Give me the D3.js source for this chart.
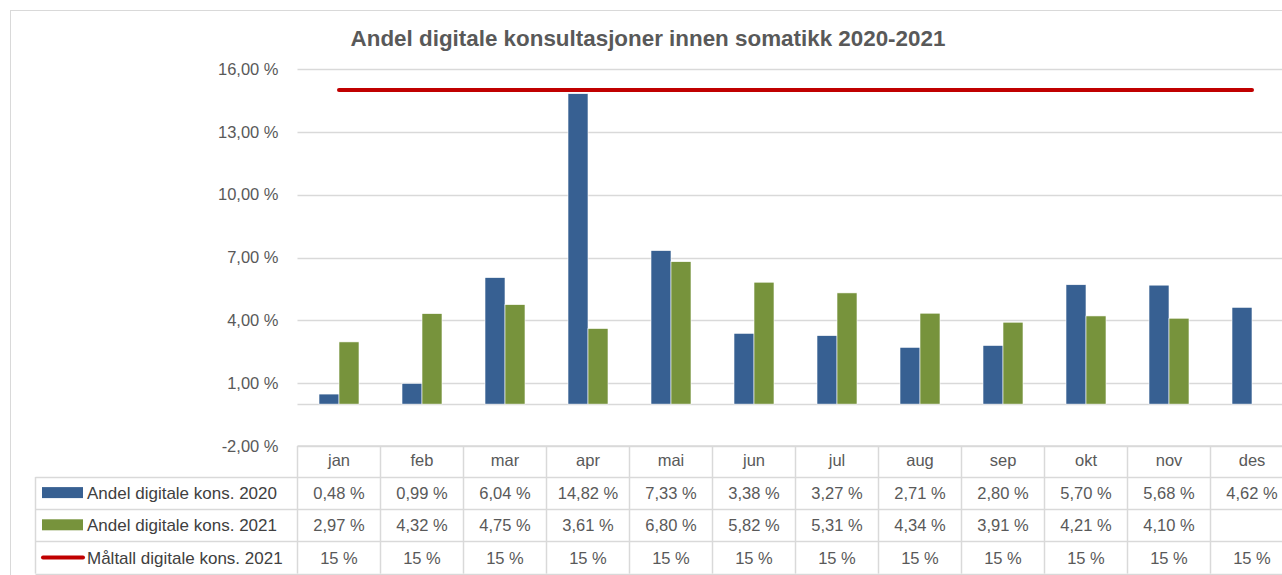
<!DOCTYPE html>
<html>
<head>
<meta charset="utf-8">
<script src="https://cdn.jsdelivr.net/npm/d3@7"></script>
<style>
  body { margin: 0; background: #fff; }
  svg { display: block; font-family: "Liberation Sans", Arial, sans-serif; }
</style>
</head>
<body>
<div id="chart"></div>
<script>
// data
const months = ["jan", "feb", "mar", "apr", "mai", "jun", "jul", "aug", "sep", "okt", "nov", "des"];
const kons2020 = [0.48, 0.99, 6.04, 14.82, 7.33, 3.38, 3.27, 2.71, 2.80, 5.70, 5.68, 4.62];
const kons2021 = [2.97, 4.32, 4.75, 3.61, 6.80, 5.82, 5.31, 4.34, 3.91, 4.21, 4.10, null];
const maltall = [15, 15, 15, 15, 15, 15, 15, 15, 15, 15, 15, 15];
const yTicks = [-2, 1, 4, 7, 10, 13, 16];
const seriesNames = ["Andel digitale kons. 2020", "Andel digitale kons. 2021", "Måltall digitale kons. 2021"];
const title = "Andel digitale konsultasjoner innen somatikk 2020-2021";

const colors = ["#376092", "#77933C", "#C00000"];
const grid = "#d9d9d9";
const textCol = "#595959";

const W = 1282, H = 575;
const plotLeft = 297.5, colW = 83;
const plotTop = 69, plotBottom = 446;

const svg = d3.select("#chart").append("svg")
  .attr("width", W)
  .attr("height", H);

// chart border
svg.append("rect")
  .attr("x", 10.5).attr("y", 10.5)
  .attr("width", 1400).attr("height", 700)
  .attr("fill", "none").attr("stroke", grid);

// scales
const x = d3.scaleBand().domain(months)
  .range([plotLeft, plotLeft + colW * months.length])
  .padding(0);
const xs = d3.scaleBand().domain(["2020", "2021"])
  .range([0, x.bandwidth()])
  .paddingInner(0).paddingOuter(1.075);
const y = d3.scaleLinear().domain([-2, 16]).range([plotBottom, plotTop]);

const fmt2 = v => d3.format(".2f")(v).replace(".", ",").replace("−", "-") + " %";

// gridlines
svg.append("g").selectAll("line")
  .data(yTicks.concat([0]))
  .join("line")
  .attr("x1", plotLeft).attr("x2", W + 20)
  .attr("y1", d => Math.round(y(d)) + 0.5)
  .attr("y2", d => Math.round(y(d)) + 0.5)
  .attr("stroke", grid).attr("stroke-width", 1.5);

// y axis
const yAxis = d3.axisLeft(y)
  .tickValues(yTicks)
  .tickSize(0)
  .tickPadding(19)
  .tickFormat(fmt2);
svg.append("g")
  .attr("transform", `translate(${plotLeft},0)`)
  .call(yAxis)
  .call(g => g.select(".domain").remove())
  .selectAll("text")
  .attr("fill", textCol)
  .style("font-size", "16.5px")
  .style("font-family", "Liberation Sans, Arial, sans-serif");

// bars
const bars = [
  { key: "2020", vals: kons2020, color: colors[0] },
  { key: "2021", vals: kons2021, color: colors[1] }
];
bars.forEach(s => {
  svg.append("g").selectAll("rect")
    .data(months.map((m, i) => ({ m: m, v: s.vals[i] })).filter(d => d.v != null))
    .join("rect")
    .attr("x", d => x(d.m) + xs(s.key))
    .attr("y", d => y(d.v))
    .attr("width", xs.bandwidth())
    .attr("height", d => y(0) - y(d.v))
    .attr("fill", s.color)
    .attr("stroke", "#ffffff")
    .attr("stroke-width", 0.6);
});

// target line
const line = d3.line()
  .x((d, i) => x(months[i]) + x.bandwidth() / 2)
  .y(d => y(d));
svg.append("path")
  .datum(maltall)
  .attr("d", line)
  .attr("fill", "none")
  .attr("stroke", colors[2])
  .attr("stroke-width", 4)
  .attr("stroke-linecap", "round");

// title
svg.append("text")
  .attr("x", 648).attr("y", 46)
  .attr("text-anchor", "middle")
  .attr("fill", textCol)
  .style("font-size", "22.4px")
  .style("font-weight", "bold")
  .text(title);

// data table
const tableTop = plotBottom;
const headH = 31, rowH = 32.2;
const tableLeft = 35.5;
const tableRight = plotLeft + colW * months.length;
const tbl = svg.append("g");

// horizontal lines
tbl.append("line")
  .attr("x1", plotLeft).attr("x2", tableRight)
  .attr("y1", tableTop).attr("y2", tableTop)
  .attr("stroke", grid).attr("stroke-width", 1.5);
[0, 1, 2, 3].forEach(r => {
  const yy = Math.round(tableTop + headH + r * rowH) + 0.5;
  tbl.append("line")
    .attr("x1", tableLeft).attr("x2", tableRight)
    .attr("y1", yy).attr("y2", yy)
    .attr("stroke", grid).attr("stroke-width", 1.5);
});
// vertical lines
d3.range(months.length + 1).forEach(i => {
  tbl.append("line")
    .attr("x1", plotLeft + i * colW).attr("x2", plotLeft + i * colW)
    .attr("y1", tableTop).attr("y2", tableTop + headH + 3 * rowH)
    .attr("stroke", grid).attr("stroke-width", 1.5);
});
tbl.append("line")
  .attr("x1", tableLeft).attr("x2", tableLeft)
  .attr("y1", tableTop + headH).attr("y2", tableTop + headH + 3 * rowH)
  .attr("stroke", grid).attr("stroke-width", 1.5);

// month header via axis
const xAxis = d3.axisBottom(x).tickSize(0).tickPadding(8);
svg.append("g")
  .attr("transform", `translate(0,${tableTop})`)
  .call(xAxis)
  .call(g => g.select(".domain").remove())
  .selectAll("text")
  .attr("fill", textCol)
  .style("font-size", "16.5px")
  .style("font-family", "Liberation Sans, Arial, sans-serif");

// rows
const rows = [
  kons2020.map(v => v == null ? "" : fmt2(v)),
  kons2021.map(v => v == null ? "" : fmt2(v)),
  maltall.map(v => v + " %")
];
rows.forEach((r, ri) => {
  const cy = tableTop + headH + ri * rowH + rowH / 2;
  tbl.append("g").selectAll("text")
    .data(r)
    .join("text")
    .attr("x", (d, i) => x(months[i]) + x.bandwidth() / 2)
    .attr("y", cy + 6)
    .attr("text-anchor", "middle")
    .attr("fill", textCol)
    .style("font-size", "16.5px")
    .text(d => d);

  // legend key
  if (ri < 2) {
    tbl.append("rect")
      .attr("x", 42).attr("y", cy - 6)
      .attr("width", 41).attr("height", 11)
      .attr("fill", colors[ri]);
  } else {
    tbl.append("line")
      .attr("x1", 43).attr("x2", 83)
      .attr("y1", cy).attr("y2", cy)
      .attr("stroke", colors[2])
      .attr("stroke-width", 4)
      .attr("stroke-linecap", "round");
  }
  tbl.append("text")
    .attr("x", 87).attr("y", cy + 6)
    .attr("fill", "#404040")
    .style("font-size", "17px")
    .text(seriesNames[ri]);
});
</script>
</body>
</html>
